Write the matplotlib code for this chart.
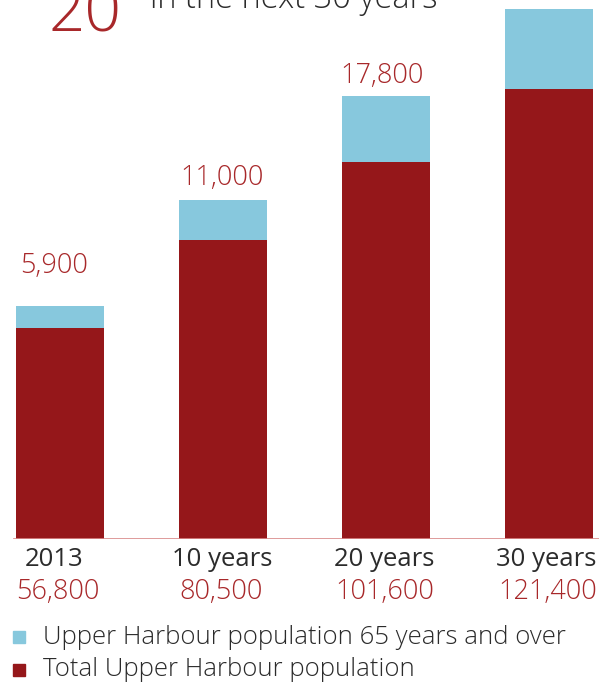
import matplotlib
matplotlib.use("Agg")
import matplotlib.pyplot as plt
from matplotlib.patches import Rectangle

# ---- data ----
categories = ["2013", "10 years", "20 years", "30 years"]
total_pop = [56800, 80500, 101600, 121400]
total_labels = ["56,800", "80,500", "101,600", "121,400"]
over65 = [5900, 11000, 17800, 21600]
over65_labels = ["5,900", "11,000", "17,800", ""]
legend_labels = ["Upper Harbour population 65 years and over",
                 "Total Upper Harbour population"]

RED = "#95171a"
BLUE = "#87c8dd"
TXT_RED = "#a8282a"
TXT_DARK = "#2b2b2b"
FONT = ["Open Sans", "DejaVu Sans"]

W, H = 599, 684
fig = plt.figure(figsize=(W / 100, H / 100), dpi=100)
base_px = 539
ax = fig.add_axes([0, 1 - base_px / H, 1, base_px / H])

x = list(range(len(categories)))
ax.bar(x, total_pop, width=0.54, color=RED, zorder=2)
ax.bar(x, over65, bottom=total_pop, width=0.54, color=BLUE, zorder=2)

ax.set_xlim(-0.371, 3.304)
ax.set_ylim(0, 145300)
ax.axis("off")
ax.axhline(0, xmin=14 / W, xmax=1, color="#d98a8a", lw=1.2, zorder=3)

label_off = [40, 21.5, 20, 20]
label_dx = [-6, -1, -4.5, 0]
cat_dx = [-6, -1.5, -2, -3]
val_dx = [-3, -2, -2, -2]
for i in x:
    if over65_labels[i]:
        ax.annotate(over65_labels[i], xy=(i, total_pop[i] + over65[i]),
                    xytext=(label_dx[i], label_off[i]), textcoords="offset pixels",
                    ha="center", va="center", fontsize=19.5, color=TXT_RED,
                    family=FONT, fontweight="light")
    ax.annotate(categories[i], xy=(i, 0), xytext=(cat_dx[i], -21),
                textcoords="offset pixels", ha="center", va="center",
                fontsize=18.5, color=TXT_DARK, family=FONT, annotation_clip=False)
    ax.annotate(total_labels[i], xy=(i, 0), xytext=(val_dx[i], -53),
                textcoords="offset pixels", ha="center", va="center",
                fontsize=19.5, color=TXT_RED, family=FONT, fontweight="light",
                annotation_clip=False)

# legend
leg_y = [637, 670]
leg_col = [BLUE, RED]
for yy, col, lab in zip(leg_y, leg_col, legend_labels):
    fig.patches.append(Rectangle((13 / W, 1 - (yy + 6) / H), 12 / W, 12 / H,
                                 transform=fig.transFigure, color=col))
    fig.text(43 / W, 1 - yy / H, lab, ha="left", va="center", fontsize=18.5,
             color=TXT_DARK, family=FONT, fontweight="light")

# cut-off heading
fig.text(48 / W, 1 - 32 / H, "20", ha="left", va="baseline", fontsize=46,
         color=TXT_RED, family=FONT, fontweight="light")
fig.text(150 / W, 1 - 8 / H, "in the next 30 years", ha="left", va="baseline",
         fontsize=23.5, color=TXT_DARK, family=FONT, fontweight="light")

fig.savefig("out.png", dpi=100)
